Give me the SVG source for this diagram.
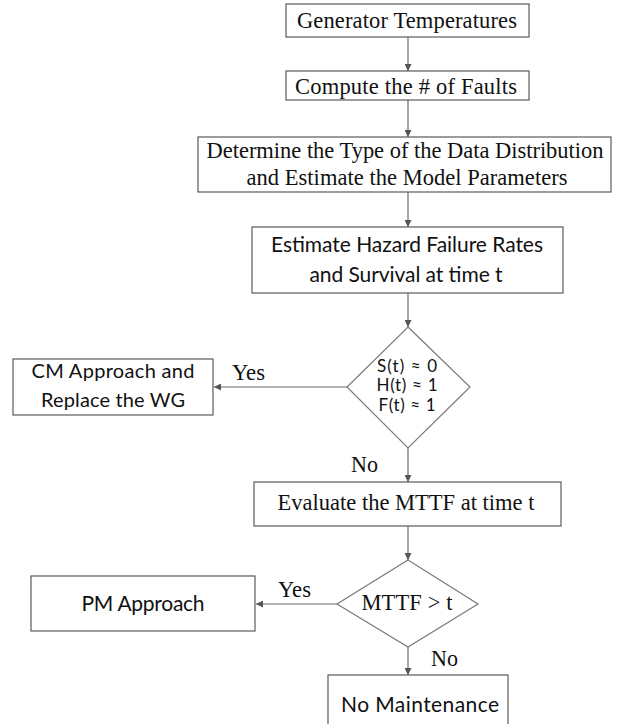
<svg xmlns="http://www.w3.org/2000/svg" width="618" height="724" viewBox="0 0 618 724">
<defs>
<style>
.box{fill:#fff;stroke:#5a5a5a;stroke-width:1.2}
.dia{fill:#fff;stroke:#7a7a7a;stroke-width:1.2}
.ser{font-family:"Liberation Serif","Times New Roman",serif;font-size:22.5px;fill:#111;text-anchor:middle}
.san{font-family:Lato,"Liberation Sans",sans-serif;font-size:21px;fill:#111;text-anchor:middle}
.lbl{font-family:"Liberation Serif","Times New Roman",serif;font-size:22.5px;fill:#111}
.con{stroke:#6a6a6a;stroke-width:1.2;fill:none;marker-end:url(#ah)}
</style>
<marker id="ah" viewBox="0 0 10 10" refX="10" refY="5" markerWidth="7" markerHeight="7" markerUnits="userSpaceOnUse" orient="auto">
<path d="M0,0 L10,5 L0,10 z" fill="#555"/>
</marker>
</defs>
<rect width="618" height="724" fill="#fff"/>
<g id="connectors">
<line class="con" x1="408" y1="37" x2="408" y2="71"/>
<line class="con" x1="408" y1="100" x2="408" y2="137"/>
<line class="con" x1="408" y1="192" x2="408" y2="227"/>
<line class="con" x1="408" y1="293" x2="408" y2="327"/>
<line class="con" x1="347" y1="387" x2="214" y2="387"/>
<line class="con" x1="408" y1="448" x2="408" y2="482"/>
<line class="con" x1="408" y1="526" x2="408" y2="560"/>
<line class="con" x1="337" y1="604" x2="256" y2="604"/>
<line class="con" x1="408" y1="647" x2="408" y2="675"/>
<text class="lbl" x="232" y="380" textLength="33" lengthAdjust="spacingAndGlyphs">Yes</text>
<text class="lbl" x="351" y="472" textLength="27" lengthAdjust="spacingAndGlyphs">No</text>
<text class="lbl" x="278" y="597" textLength="33" lengthAdjust="spacingAndGlyphs">Yes</text>
<text class="lbl" x="431" y="666" textLength="27" lengthAdjust="spacingAndGlyphs">No</text>
</g>
<g id="n1">
<rect class="box" x="286" y="4" width="243" height="33"/>
<text class="ser" x="407" y="28" textLength="220">Generator Temperatures</text>
</g>
<g id="n2">
<rect class="box" x="286" y="71" width="243" height="29"/>
<text class="ser" x="406" y="94" textLength="222">Compute the # of Faults</text>
</g>
<g id="n3">
<rect class="box" x="198" y="137" width="413" height="55"/>
<text class="ser" x="405" y="158" textLength="397">Determine the Type of the Data Distribution</text>
<text class="ser" x="407" y="185" textLength="321">and Estimate the Model Parameters</text>
</g>
<g id="n4">
<rect class="box" x="252" y="227" width="311" height="66"/>
<text class="san" x="407" y="252" textLength="272">Estimate Hazard Failure Rates</text>
<text class="san" x="406" y="282" textLength="193">and Survival at time t</text>
</g>
<g id="n5">
<polygon class="dia" points="408,327 470,387 408,448 347,387"/>
<text class="san" x="407" y="372" style="font-size:17px" textLength="60">S(t) ≈ 0</text>
<text class="san" x="407" y="391" style="font-size:17px" textLength="61">H(t) ≈ 1</text>
<text class="san" x="407" y="411" style="font-size:17px" textLength="57">F(t) ≈ 1</text>
</g>
<g id="n6">
<rect class="box" x="13" y="359" width="200" height="56"/>
<text class="san" x="113" y="378" style="font-size:20px" textLength="163">CM Approach and</text>
<text class="san" x="113" y="407" style="font-size:20px" textLength="144">Replace the WG</text>
</g>
<g id="n7">
<rect class="box" x="254" y="482" width="307" height="44"/>
<text class="ser" x="406" y="510" textLength="257">Evaluate the MTTF at time t</text>
</g>
<g id="n8">
<polygon class="dia" points="408,560 478,604 408,647 337,604"/>
<text class="ser" x="407" y="610" textLength="91">MTTF &gt; t</text>
</g>
<g id="n9">
<rect class="box" x="31" y="576" width="224" height="55"/>
<text class="san" x="143" y="611" textLength="123">PM Approach</text>
</g>
<g id="n10">
<rect class="box" x="328" y="675" width="180" height="60"/>
<text class="san" x="420" y="712" textLength="158">No Maintenance</text>
</g>
</svg>
